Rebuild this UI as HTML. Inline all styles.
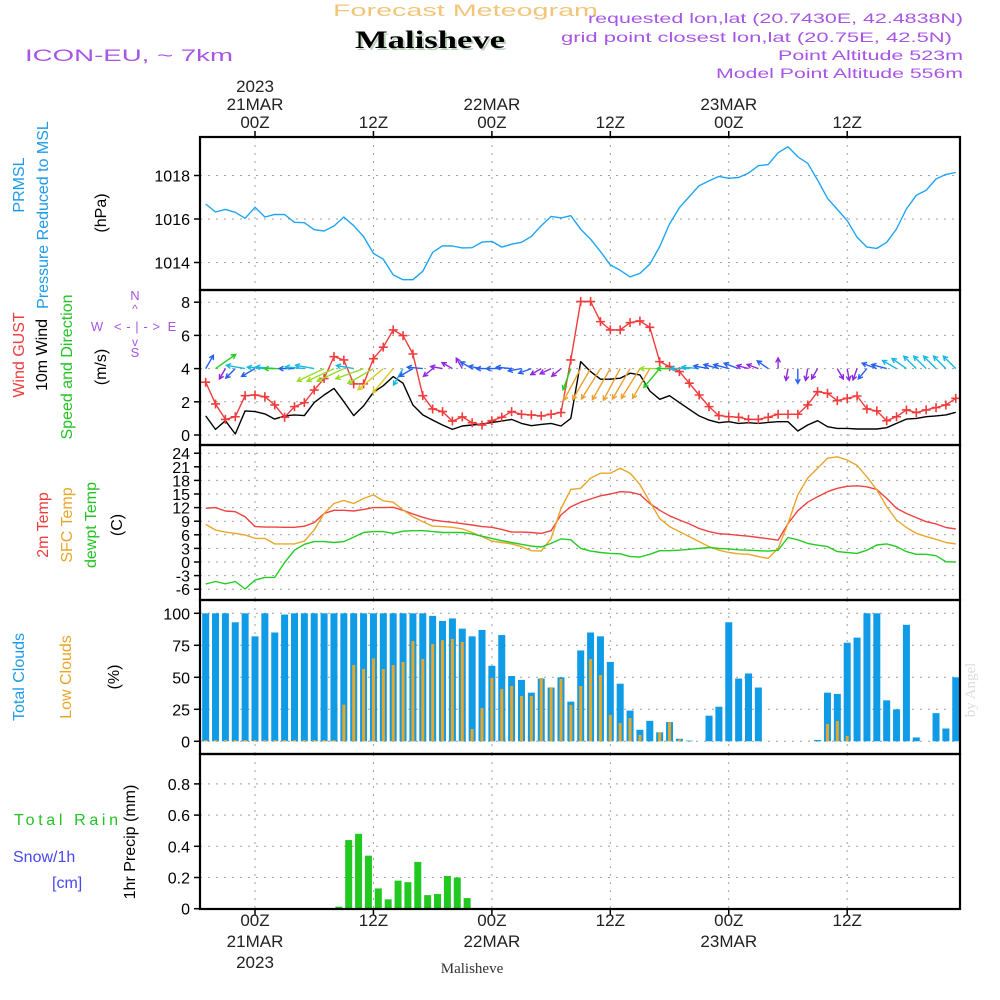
<!DOCTYPE html>
<html><head><meta charset="utf-8"><style>
html,body{margin:0;padding:0;background:#fff;}
svg{display:block;font-family:"Liberation Sans",sans-serif;}
</style></head><body>
<svg id="chart" width="1000" height="1000" viewBox="0 0 1000 1000" xmlns="http://www.w3.org/2000/svg">
<rect x="0" y="0" width="1000" height="1000" fill="#fff"/>
<text x="333" y="16" font-size="17" fill="#f2c67a" textLength="265" lengthAdjust="spacingAndGlyphs">Forecast Meteogram</text>
<text x="357" y="50" font-size="25" font-weight="bold" font-family="Liberation Serif, serif" fill="#bcd0bc" textLength="150" lengthAdjust="spacingAndGlyphs">Malisheve</text>
<text x="355" y="48" font-size="25" font-weight="bold" font-family="Liberation Serif, serif" fill="#000" textLength="150" lengthAdjust="spacingAndGlyphs">Malisheve</text>
<text x="25" y="61" font-size="17" fill="#a855e6" textLength="208" lengthAdjust="spacingAndGlyphs">ICON-EU, ~ 7km</text>
<g font-size="14" fill="#a855e6">
<text x="588" y="23" textLength="375" lengthAdjust="spacingAndGlyphs">requested lon,lat (20.7430E, 42.4838N)</text>
<text x="561" y="42" textLength="391" lengthAdjust="spacingAndGlyphs">grid point closest lon,lat (20.75E, 42.5N)</text>
<text x="778" y="60" textLength="185" lengthAdjust="spacingAndGlyphs">Point Altitude 523m</text>
<text x="716" y="78" textLength="247" lengthAdjust="spacingAndGlyphs">Model Point Altitude 556m</text>
</g>
<text x="975" y="690" font-size="15" font-family="Liberation Serif, serif" fill="#dcdcdc" transform="rotate(-90 975 690)" text-anchor="middle">by Angel</text>
<text x="472" y="973" font-size="15" font-family="Liberation Serif, serif" fill="#333" text-anchor="middle">Malisheve</text>

<g font-size="16">
<text transform="translate(24,185) rotate(-90)" text-anchor="middle" fill="#1e9be8">PRMSL</text>
<text transform="translate(48,215) rotate(-90)" text-anchor="middle" fill="#1e9be8">Pressure Reduced to MSL</text>
<text transform="translate(106,213) rotate(-90)" text-anchor="middle" fill="#000">(hPa)</text>
<text transform="translate(24,355) rotate(-90)" text-anchor="middle" fill="#f03c3c">Wind GUST</text>
<text transform="translate(47,355) rotate(-90)" text-anchor="middle" fill="#000">10m Wind</text>
<text transform="translate(72,367) rotate(-90)" text-anchor="middle" fill="#22c422">Speed and Direction</text>
<text transform="translate(106,367) rotate(-90)" text-anchor="middle" fill="#000">(m/s)</text>
<text transform="translate(48,525) rotate(-90)" text-anchor="middle" fill="#f03c3c">2m Temp</text>
<text transform="translate(72,525) rotate(-90)" text-anchor="middle" fill="#e8a628">SFC Temp</text>
<text transform="translate(96,525) rotate(-90)" text-anchor="middle" fill="#22c422">dewpt Temp</text>
<text transform="translate(122,525) rotate(-90)" text-anchor="middle" fill="#000">(C)</text>
<text transform="translate(24,677) rotate(-90)" text-anchor="middle" fill="#1e9be8">Total Clouds</text>
<text transform="translate(71,677) rotate(-90)" text-anchor="middle" fill="#e8a628">Low Clouds</text>
<text transform="translate(119,677) rotate(-90)" text-anchor="middle" fill="#000">(%)</text>
<text x="14" y="825" fill="#22c422" textLength="104" lengthAdjust="spacing">Total  Rain</text>
<text x="13" y="862" fill="#4848f0">Snow/1h</text>
<text x="52" y="888" fill="#4848f0">[cm]</text>
<text transform="translate(135,842) rotate(-90)" text-anchor="middle" fill="#000">1hr Precip (mm)</text>
</g>
<g font-size="13" fill="#a855e6" text-anchor="middle">
<text x="135" y="300">N</text>
<text x="135" y="357">S</text>
<text x="97" y="331">W</text>
<text x="172" y="331">E</text>
<text x="137" y="331" font-size="13" textLength="46" lengthAdjust="spacing">&lt;-|-&gt;</text>
<text x="135" y="313" font-size="12">^</text>
<text x="135" y="346" font-size="12">v</text>
</g>
<g id="plot"></g>
</svg>
<script>
const pressure = [1016.69,1016.32,1016.44,1016.31,1016.03,1016.54,1016.09,1016.21,1016.2,1015.85,1015.83,1015.51,1015.45,1015.68,1016.09,1015.69,1015.19,1014.42,1014.15,1013.43,1013.21,1013.21,1013.6,1014.47,1014.77,1014.76,1014.67,1014.68,1014.94,1014.97,1014.71,1014.84,1014.93,1015.2,1015.69,1016.12,1016.05,1016.15,
1015.53,1015.07,1014.5,1013.89,1013.64,1013.34,1013.5,1013.92,1014.73,1015.77,1016.52,1017.03,1017.53,1017.75,1017.96,1017.87,1017.91,1018.11,1018.45,1018.5,1019.05,1019.32,1018.86,1018.56,1017.79,1016.95,1016.44,1015.92,1015.16,1014.71,1014.65,1014.93,1015.54,1016.46,1017.09,1017.32,1017.84,1018.05,1018.14];
const gust = [3.18,1.87,0.94,1.1,2.37,2.41,2.31,1.81,1.07,1.71,1.95,2.71,3.4,4.72,4.52,3.08,3.08,4.6,5.29,6.33,5.99,4.88,2.37,1.57,1.41,0.84,1.09,0.74,0.6,0.86,1.07,1.41,1.25,1.21,1.15,1.25,1.35,4.52,
8.04,8.04,6.83,6.33,6.33,6.77,6.87,6.49,4.42,4.12,3.82,3.12,2.41,1.71,1.17,1.1,1.07,0.94,0.94,1.07,1.25,1.25,1.25,1.81,2.61,2.51,2.07,2.21,2.35,1.57,1.45,0.86,1.1,1.51,1.35,1.51,1.65,1.81,2.21];
const wind10m = [1.15,0.34,0.86,0.06,1.45,1.41,1.27,0.96,1.15,1.21,1.17,1.95,2.41,2.81,2.01,1.17,1.75,2.57,2.97,3.52,3.12,1.81,1.21,0.9,0.6,0.34,0.54,0.6,0.66,0.76,0.84,0.94,0.7,0.56,0.64,0.7,0.54,1.0,
4.42,3.82,3.36,3.36,3.42,3.72,3.62,2.65,2.15,2.37,1.95,1.55,1.15,0.9,0.74,0.8,0.7,0.74,0.7,0.76,0.8,0.8,0.24,0.6,0.86,0.5,0.4,0.4,0.36,0.36,0.36,0.44,0.7,0.96,1.0,1.1,1.15,1.21,1.37];
const arrowDir = [60,35,-120,-135,170, -150,175,175,180,180,175,170, -155,-155,-155,170,-160,-150,-140,-130,-120,-150,
175,-140,170,150,120,150,170,180,180,175,-170,-160,-150,-155,-140, -110, -118,-120,-122,-120,-118,-120,-122,-120,
-130,180,180,180,175,170,165,165,160,165,160,145, 90,-100,-90,-100,-120,-90,-60,-80,-110,-130, 160,165,150,145,135,135,135,135,135];
const arrowSpd = [1.5,2.8,1,1.2,2, 1.5,1.8,2,2.2,1.5,2,2, 3.5,3.5,3.5,1.8,3.5,3.5,4,3.8,2,1.5,
1.5,1,1,1,1,1.2,1.2,1.5,1.5,1.5,1.2,1.2,1,1,1, 2.5, 4.4,4.4,4.4,4.4,4.4,4.3,4.3,4.2,
2.8,3.5,2.5,2,1.8,1.5,1.5,1.5,1.5,1,1,1.2, 0.8,1,1.4,1,1,0,1,1,1,1.2, 1.5,1.5,1.6,1.8,1.8,1.8,1.8,1.8,1.8];
const temp2m = [11.84,12.0,11.25,11.1,10.0,7.8,7.7,7.7,7.65,7.65,7.9,8.7,10.7,11.4,11.4,11.25,11.6,12.0,12.0,12.06,11.4,10.6,9.85,9.26,8.97,8.75,8.46,8.16,7.8,7.65,7.2,6.6,6.6,6.5,6.3,6.9,10.4,12.2,13.2,13.9,14.6,15.0,15.5,15.4,14.9,12.9,11.4,10.2,9.26,8.4,7.4,6.7,6.25,6.1,5.9,5.7,5.4,5.15,4.8,8.5,11.3,13.2,14.4,15.5,16.25,16.7,16.8,16.6,16.0,14.0,11.84,10.7,9.8,8.9,8.4,7.6,7.3];
const tempSfc = [8.3,7.06,6.6,6.3,5.96,5.2,5.2,4.0,4.0,4.0,4.6,7.06,10.7,12.9,13.6,12.9,14.0,14.8,13.5,13.2,11.5,10.0,8.9,7.9,7.8,7.65,7.3,6.5,5.6,4.6,4.3,4.0,3.4,2.5,2.4,5.2,11.8,16.0,16.25,18.5,19.6,19.6,20.7,19.6,17.1,13.3,9.6,7.8,6.7,5.6,4.5,3.4,2.6,2.1,1.8,1.7,1.2,0.8,3.0,8.5,14.8,18.5,20.7,22.9,23.2,22.5,21.3,18.8,15.9,12.2,9.26,7.6,6.3,5.6,5.0,4.3,4.0];
const dewpt = [-4.85,-4.3,-4.8,-4.3,-5.96,-4.0,-3.4,-3.4,-0.1,2.6,3.9,4.5,4.5,4.3,4.5,5.5,6.5,6.7,6.7,6.3,6.8,6.9,6.9,6.7,6.5,6.5,6.5,6.2,5.7,5.2,4.7,4.3,3.9,3.5,3.3,4.1,5.1,4.9,3.0,2.4,2.1,1.9,1.8,1.2,1.1,1.7,2.5,2.5,2.6,2.8,3.0,3.2,3.0,2.9,2.7,2.6,2.5,2.4,2.6,5.4,4.9,4.1,3.7,3.4,2.3,2.1,1.9,2.6,3.75,4.0,3.4,2.3,1.7,1.7,1.4,0.07,0.0];
const totalClouds = [100,100,100,93,100,82,100,85,99,100,100,100,100,100,100,100,100,100,100,100,100,100,100,98,94,96,88,82,87,59,83,51,48,38,49,42,50,31,71,85,82,62,45,24,9,16,7,15,2,0.5,0,20,27,93,49,53,42,0,0,0,0,0,1,38,37,77,81,100,100,32,25,91,3,0,22,10,50];
const lowClouds = [1,1,1,1,1,1,1,1,1,1,1,1,1,1,28.6,59.6,56.5,64.8,56.5,59.6,62,78.4,64.3,76,79,80,77.6,9.6,26,49.5,40.9,43.2,35.4,35.4,49.5,42.2,48.7,28.4,43.2,64.3,51.8,20.6,14.3,18.2,5,0,7,14.8,1.5,0,0,0,0,0,0,0,0,0,0,0,0,0,0,13.5,15.9,4.2,0,0,0,0,0,0,0,0,0,0,0];
const precip = [0,0,0,0,0,0,0,0,0,0,0,0,0,0,0.013,0.44,0.48,0.34,0.13,0.06,0.18,0.17,0.30,0.087,0.094,0.21,0.20,0.068,0,0,0,0,0,0,0,0,0,0,0,0,0,0,0,0,0,0,0,0,0,0,0,0,0,0,0,0,0,0,0,0,0,0,0,0,0,0,0,0,0,0,0,0,0,0,0,0,0];
const pressTicks = [1014,1016,1018];
const windTicks = [0,2,4,6,8];
const tempTicks = [-6,-3,0,3,6,9,12,15,18,21,24];
const cloudTicks = [0,25,50,75,100];
const precipTicks = [0,0.2,0.4,0.6,0.8];
const timeTicks = [0,12,24,36,48,60];
const topLabels = [["2023","21MAR","00Z"],["","","12Z"],["","22MAR","00Z"],["","","12Z"],["","23MAR","00Z"],["","","12Z"]];
const bottomLabels = [["00Z","21MAR","2023"],["12Z","",""],["00Z","22MAR",""],["12Z","",""],["00Z","23MAR",""],["12Z","",""]];
const T0 = -5;

const X0 = 200, X1 = 960;
const xT = t => 255 + t * 9.87;
const yP = p => 219 - (p - 1016) * 21.75;
const yW = v => 435 - v * 16.6;
const yT = v => 562 - v * 4.533;
const yC = v => 741.3 - v * 1.28;
const yR = v => 908.7 - v * 156;
const panels = [[137,290],[290,445],[445,600],[600,754],[754,909]];

const NS = "http://www.w3.org/2000/svg";
const plot = document.getElementById('plot');
function mk(tag, attrs, parent) {
  const e = document.createElementNS(NS, tag);
  for (const k in attrs) e.setAttribute(k, attrs[k]);
  (parent || plot).appendChild(e);
  return e;
}
const clip = mk('clipPath', {id: 'pc'});
mk('rect', {x: X0, y: 137, width: X1 - X0, height: 772}, clip);

const grid = mk('g', {stroke: '#a0a0a0', 'stroke-width': 1, 'stroke-dasharray': '2,6'});


timeTicks.forEach(t => {
  panels.forEach(p => {
    const l = mk('line', {x1: xT(t), x2: xT(t), y1: p[0], y2: p[1]}, grid);
    
    
  });
});
function hgrid(ticks, f, fmt, name) {
  ticks.forEach(v => {
    const l = mk('line', {x1: X0, x2: X1, y1: f(v), y2: f(v)}, grid);
    
    
    const tk = mk('line', {x1: X0 - 6, x2: X0, y1: f(v), y2: f(v), stroke: '#000', 'stroke-width': 1.5});
    
    
    const tx = mk('text', {x: X0 - 10, y: f(v) + 6, 'text-anchor': 'end', 'font-size': 16, fill: '#000'});
    tx.textContent = fmt(v);
    
    
  });
}
hgrid(pressTicks, yP, v => String(v), 'pressure');
hgrid(windTicks, yW, v => String(v), 'wind');
hgrid(tempTicks, yT, v => String(v), 'temp');
hgrid(cloudTicks, yC, v => String(v), 'cloud');
hgrid(precipTicks, yR, v => v === 0 ? '0' : v.toFixed(1), 'precip');

timeTicks.forEach((t, i) => {
  const x = xT(t);
  const a = mk('line', {x1: x, x2: x, y1: 131, y2: 137, stroke: '#000', 'stroke-width': 1.5});
  
  
  const b = mk('line', {x1: x, x2: x, y1: 909, y2: 915, stroke: '#000', 'stroke-width': 1.5});
  
  
  topLabels[i].forEach((s, j) => {
    if (!s) return;
    const tx = mk('text', {x: x, y: 92 + j * 18, 'text-anchor': 'middle', 'font-size': 17, fill: '#222'});
    tx.textContent = s;
    
    
  });
  bottomLabels[i].forEach((s, j) => {
    if (!s) return;
    const tx = mk('text', {x: x, y: 926 + j * 21, 'text-anchor': 'middle', 'font-size': 17, fill: '#222'});
    tx.textContent = s;
    
    
  });
});

const gc = mk('g', {'clip-path': 'url(#pc)'});


function line(arr, f, color, name, w) {
  const pts = arr.map((v, i) => xT(T0 + i).toFixed(1) + ',' + f(v).toFixed(1)).join(' ');
  const p = mk('polyline', {points: pts, fill: 'none', stroke: color, 'stroke-width': w || 1.4, 'stroke-linejoin': 'round'}, gc);
  
  
}
totalClouds.forEach((v, i) => {
  const x = xT(T0 + i);
  const r = mk('rect', {x: x - 3.5, y: yC(v), width: 7, height: Math.max(0, yC(0) - yC(v)), fill: '#0f9be6'}, gc);
  
  
});
lowClouds.forEach((v, i) => {
  const x = xT(T0 + i);
  const r = mk('rect', {x: x - 1.5, y: yC(v), width: 3, height: Math.max(0, yC(0) - yC(v)), fill: '#e8a628'}, gc);
  
  
});
precip.forEach((v, i) => {
  if (v <= 0) return;
  const x = xT(T0 + i) - 5;
  const r = mk('rect', {x: x - 3.5, y: yR(v), width: 7, height: yR(0) - yR(v), fill: '#20c820'}, gc);
  
  
});
line(pressure, yP, '#1ea5f5', 'pressure-line');
line(temp2m, yT, '#f04040', 't2m-line');
line(tempSfc, yT, '#eaa62a', 'sfc-temp-line');
line(dewpt, yT, '#22cc22', 'dewpt-line');
line(wind10m, yW, '#000', 'wind-10m-line');
line(gust, yW, '#f03c3c', 'gust-line');
gust.forEach((v, i) => {
  const x = xT(T0 + i), y = yW(v);
  const m = mk('path', {d: `M${x-4.5},${y}H${x+4.5}M${x},${y-4.5}V${y+4.5}`, stroke: '#f03c3c', 'stroke-width': 1.6}, gc);
  
  
});
function spdColor(s) {
  if (s < 1.1) return '#9028e0';
  if (s < 1.6) return '#2860f0';
  if (s < 2.2) return '#18b8e0';
  if (s < 3.0) return '#28cc28';
  if (s < 3.7) return '#98dc28';
  if (s < 4.1) return '#e0c820';
  return '#eca030';
}
arrowDir.forEach((d, i) => {
  const s = arrowSpd[i];
  if (s <= 0) return;
  const L = 5 + 7 * s;
  const x = xT(T0 + i), y = yW(4);
  const a = d * Math.PI / 180;
  const hx = x + L * Math.cos(a), hy = y - L * Math.sin(a);
  const h = 5;
  const a1 = a + Math.PI - 0.5, a2 = a + Math.PI + 0.5;
  const p = `M${x.toFixed(1)},${y.toFixed(1)}L${hx.toFixed(1)},${hy.toFixed(1)}M${(hx + h*Math.cos(a1)).toFixed(1)},${(hy - h*Math.sin(a1)).toFixed(1)}L${hx.toFixed(1)},${hy.toFixed(1)}L${(hx + h*Math.cos(a2)).toFixed(1)},${(hy - h*Math.sin(a2)).toFixed(1)}`;
  const e = mk('path', {d: p, fill: 'none', stroke: spdColor(s), 'stroke-width': 1.4}, gc);
  
  
});
panels.forEach(p => {
  const r = mk('rect', {x: X0, y: p[0], width: X1 - X0, height: p[1] - p[0], fill: 'none', stroke: '#000', 'stroke-width': 2.2});
  
  
});
</script>
</body></html>
